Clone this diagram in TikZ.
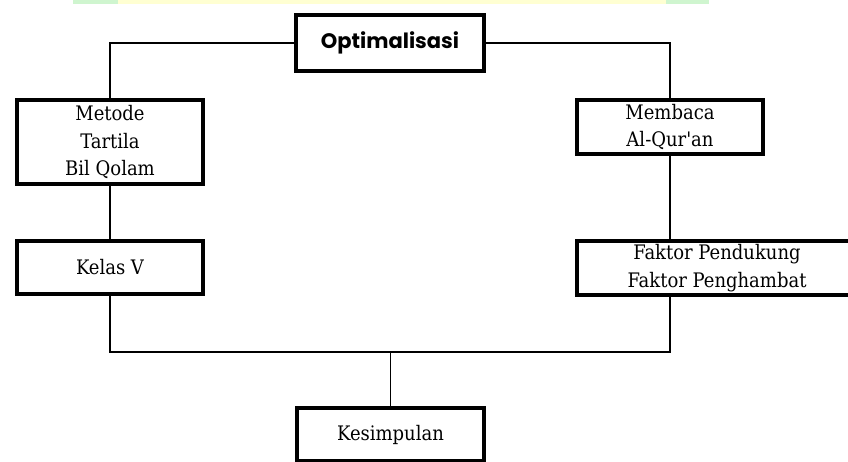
\documentclass[tikz,border=0pt]{standalone}
\usepackage{fontspec}
\setmainfont{DejaVu Serif Condensed}
\newfontfamily\optfont{Poppins}
\definecolor{hlyellow}{HTML}{FFFFD2}
\definecolor{hlgreen}{HTML}{CFF5CF}
\tikzset{
  box/.style={draw=black, line width=4pt, fill=white, rectangle, inner sep=0pt,
    align=center, font=\fontsize{20}{27.5}\selectfont},
  conn/.style={draw=black, line width=1.5pt}
}
\begin{document}
\begin{tikzpicture}[x=1pt,y=-1pt]
\useasboundingbox (0,0) rectangle (848,461);
\clip (0,0) rectangle (848,461);
\fill[white] (0,0) rectangle (848,461);
% highlight band at top
\fill[hlgreen] (73,0) rectangle (118,4);
\fill[hlyellow] (118,0) rectangle (666,4);
\fill[hlgreen] (666,0) rectangle (709,4);
% nodes
\node[box, minimum width=188pt, minimum height=56pt, font=\optfont\bfseries\fontsize{21}{25}\selectfont] (opt) at (390,43) {Optimalisasi};
\node[box, minimum width=186pt, minimum height=84pt] (met) at (110,142) {Metode\\Tartila\\Bil Qolam};
\node[box, minimum width=186pt, minimum height=53pt] (kel) at (110,267.5) {Kelas V};
\node[box, minimum width=186pt, minimum height=54pt] (mem) at (670,127) {Membaca\\Al-Qur\textquotesingle an};
\node[box, minimum width=280pt, minimum height=54pt] (fak) at (717,268) {Faktor Pendukung\\Faktor Penghambat};
\node[box, minimum width=187pt, minimum height=53pt] (kes) at (390.5,434.5) {Kesimpulan};
% junction coordinates
\coordinate (bl) at (110,352);
\coordinate (br) at (670,352);
\coordinate (bm) at (390.5,352);
% connectors
\draw[conn] (opt.west) -| (met.north);
\draw[conn] (opt.east) -| (mem.north);
\draw[conn] (met.south) -- (kel.north);
\draw[conn] (mem.south) -- (mem.south |- fak.north);
\draw[conn] (kel.south) -- (bl) -- (br) -- (mem.south |- fak.south);
\draw[conn] (bm) -- (kes.north);
\end{tikzpicture}
\end{document}
